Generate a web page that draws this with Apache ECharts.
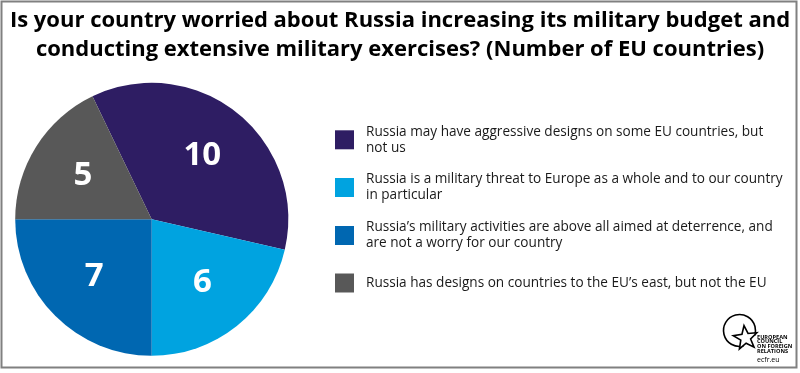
<!DOCTYPE html>
<html>
<head>
<meta charset="utf-8">
<script src="https://cdn.jsdelivr.net/npm/echarts@6/dist/echarts.min.js"></script>
<style>
html,body{margin:0;padding:0;background:#fff;}
#chart{width:800px;height:373px;}
</style>
</head>
<body>
<div id="chart"></div>
<script>
const titleLines = [
  "Is your country worried about Russia increasing its military budget and",
  "conducting extensive military exercises? (Number of EU countries)"
];
const categories = [
  "Russia may have aggressive designs on some EU countries, but not us",
  "Russia is a military threat to Europe as a whole and to our country in particular",
  "Russia\u2019s military activities are above all aimed at deterrence, and are not a worry for our country",
  "Russia has designs on countries to the EU\u2019s east, but not the EU"
];
const legendLabels = [
  "Russia may have aggressive designs on some EU countries, but\nnot us",
  "Russia is a military threat to Europe as a whole and to our country\nin particular",
  "Russia\u2019s military activities are above all aimed at deterrence, and\nare not a worry for our country",
  "Russia has designs on countries to the EU\u2019s east, but not the EU"
];
const values = [10, 6, 7, 5];
const colors = ["#2e1d63", "#00a3e0", "#0067b1", "#585858"];

const FONT = "'Open Sans', sans-serif";
const chart = echarts.init(document.getElementById('chart'), null, {renderer: 'canvas'});

const pieData = categories.map((c, i) => ({name: c, value: values[i], itemStyle: {color: colors[i]}}));
const labelData = categories.map((c, i) => ({name: c, value: values[i]}));

const legendTops = [117.3, 165, 213, 273.5];
const legends = categories.map((c, i) => ({
  data: [c],
  left: 335,
  top: legendTops[i],
  orient: 'vertical',
  padding: 0,
  itemGap: 0,
  itemWidth: 19,
  itemHeight: 19,
  icon: 'rect',
  selectedMode: false,
  formatter: () => legendLabels[i],
  textStyle: {
    fontFamily: FONT, fontSize: 13.6, lineHeight: 16, color: '#1a1a1a',
    padding: legendLabels[i].indexOf('\n') >= 0 ? [13, 0, 0, 7] : [0, 0, 0, 7]
  }
}));

const titleTops = [7, 36];
const titles = titleLines.map((t, i) => ({
  text: t,
  left: 'center',
  top: titleTops[i],
  padding: 0,
  textStyle: {fontFamily: FONT, fontWeight: 'bold', fontSize: 22, lineHeight: 28, color: '#000'}
}));

const startAngle = 115.71;

const option = {
  animation: false,
  backgroundColor: '#fff',
  title: titles,
  color: colors,
  legend: legends,
  series: [
    {
      type: 'pie',
      center: [151.7, 219.3],
      radius: [0, 136.5],
      startAngle: startAngle,
      clockwise: true,
      label: {show: false},
      labelLine: {show: false},
      itemStyle: {borderWidth: 0},
      emphasis: {disabled: true},
      data: pieData
    },
    {
      type: 'pie',
      center: [151.7, 219.3],
      radius: [20, 136.5],
      startAngle: startAngle,
      clockwise: true,
      silent: true,
      legendHoverLink: false,
      itemStyle: {color: 'rgba(0,0,0,0)', borderWidth: 0},
      emphasis: {disabled: true},
      label: {
        show: true, position: 'inside', formatter: '{c}',
        color: '#fff', fontFamily: FONT, fontWeight: 'bold', fontSize: 33
      },
      labelLine: {show: false},
      data: labelData
    }
  ],
  graphic: [
    {type: 'rect', shape: {x: 1.5, y: 1.5, width: 795, height: 366}, style: {fill: 'none', stroke: '#808080', lineWidth: 2}, z: 100},
    {type: 'arc', shape: {cx: 739.5, cy: 330.5, r: 16, startAngle: Math.PI * 0.42, endAngle: Math.PI * 2.1, clockwise: true}, style: {fill: 'none', stroke: '#000', lineWidth: 1.6}, z: 100},
    {type: 'polygon', shape: {points: (function(){
        const pts = []; const cx = 745.5, cy = 338, R = 12.5, r = 5.2;
        for (let k = 0; k < 10; k++) {
          const a = -Math.PI / 2 + k * Math.PI / 5 - 0.12;
          const rr = k % 2 === 0 ? R : r;
          pts.push([cx + rr * Math.cos(a), cy + rr * Math.sin(a)]);
        }
        return pts; })()},
      style: {fill: '#fff', stroke: '#000', lineWidth: 1.6}, z: 101},
    {type: 'text', left: 757, top: 334, z: 101, style: {text: 'EUROPEAN\nCOUNCIL\nON FOREIGN\nRELATIONS', fontFamily: FONT, fontWeight: 'bold', fontSize: 5.6, lineHeight: 4.8, fill: '#000'}},
    {type: 'text', left: 757, top: 356.5, z: 101, style: {text: 'ecfr.eu', fontFamily: FONT, fontSize: 7, fill: '#000'}}
  ]
};
chart.setOption(option);
</script>
</body>
</html>
